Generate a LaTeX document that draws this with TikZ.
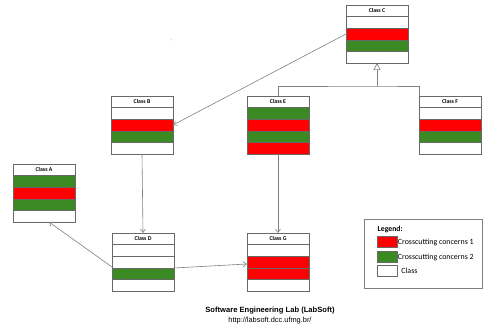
\documentclass[tikz,border=0pt]{standalone}
\usepackage{fontspec}
\setmainfont{Carlito}
\newfontfamily\labfont{Liberation Sans}
\usetikzlibrary{arrows.meta,calc}

\definecolor{ccone}{RGB}{255,0,0}
\definecolor{cctwo}{RGB}{58,137,35}
\definecolor{frameGray}{RGB}{105,105,105}
\definecolor{lineGray}{RGB}{128,128,128}

\tikzset{
	classbox/.style={draw=frameGray, fill=white, line width=0.6, minimum width=62, minimum height=58, inner sep=0, outer sep=0, anchor=north west},
	classname/.style={font=\bfseries\fontsize{5.8}{6}\selectfont, inner sep=0.5},
	rowcell/.style={draw=frameGray, line width=0.5},
	uses/.style={draw=lineGray, line width=0.6, -{Straight Barb[length=3.5pt,width=5pt]}},
	gline/.style={draw=lineGray, line width=0.6},
	inherit/.style={draw=lineGray, line width=0.6, -{Triangle[open, length=7pt, width=7pt]}},
	legendbox/.style={draw=lineGray, line width=0.5, minimum width=118, minimum height=69, inner sep=0, anchor=north west},
	swatch/.style={draw=frameGray, line width=0.5, minimum width=20, minimum height=10.5, inner sep=0},
	legendtext/.style={font=\fontsize{7.9}{8.5}\selectfont, inner sep=0.5, anchor=west}
}

\begin{document}
\begin{tikzpicture}[x=1pt,y=1pt,yscale=-1,xscale=1]
	\useasboundingbox (0,0) rectangle (484,328);
	
	%Shape: Class boxes (name / x / y / four compartments)
	\foreach \n/\x/\y/\ra/\rb/\rc/\rd in {
		C/346/5/white/ccone/cctwo/white,
		B/111/96/white/ccone/cctwo/white,
		E/247/96/cctwo/ccone/cctwo/ccone,
		F/419/96/white/ccone/cctwo/white,
		A/13/164/cctwo/ccone/cctwo/white,
		D/112/233/white/white/cctwo/white,
		G/247/233/white/ccone/ccone/white}{
		\node [classbox] (\n) at (\x,\y) {};
		\foreach \r [count=\i] in {\ra,\rb,\rc,\rd}
			\draw [rowcell, fill=\r] ($(\n.north west)+(0,\i*11.6)$) rectangle ++(62,11.6);
		\draw [frameGray, line width=0.6] (\n.north west) rectangle (\n.south east);
		% Text Node
		\node [classname] (\n-name) at ($(\n.north)+(0,5.9)$) {Class \n};
	}
	
	%Straight Lines: associations
	\draw [uses] (C.west) -- (B.east);
	\draw [uses] (B.south) -- (D.north);
	\draw [uses] (E.south) -- (G.north);
	\draw [uses] ($(D.west)+(0,5)$) -- ($(A.south)+(5,0)$);
	\draw [uses] ($(D.east)+(0,6)$) -- ($(G.west)+(0,2)$);
	
	%Straight Lines: generalization
	\coordinate (fork) at (C.south |- 0,86);
	\draw [gline] (E.north) |- (fork) -| (F.north west);
	\draw [inherit] (fork) -- (C.south);
	
	%Shape: stray dot
	\fill [lineGray] (171,40) circle (0.5);
	
	%Shape: Legend
	\node [legendbox] (legend) at (364,219) {};
	% Text Node
	\node [legendtext, font=\bfseries\fontsize{7.7}{8}\selectfont] (legend-title) at (377,229) {Legend:};
	\node [swatch, fill=ccone] (sw-one) at (387,242) {};
	\node [swatch, fill=cctwo] (sw-two) at (387,257) {};
	\node [swatch, fill=white, minimum height=11.5] (sw-class) at (387,271) {};
	% Text Node
	\node [legendtext] (txt-one) at (sw-one.east) {Crosscutting concerns 1};
	\node [legendtext] (txt-two) at (sw-two.east) {Crosscutting concerns 2};
	\node [legendtext] (txt-class) at ($(sw-class.east)+(3.5,0)$) {Class};
	
	% Text Node
	\node [font=\labfont\bfseries\fontsize{7.6}{8}\selectfont, inner sep=0] (lab) at (270,311) {Software Engineering Lab (LabSoft)};
	\node [font=\labfont\fontsize{7.4}{8}\selectfont, inner sep=0] (url) at (270,320.5) {http://labsoft.dcc.ufmg.br/};
	
\end{tikzpicture}
\end{document}
